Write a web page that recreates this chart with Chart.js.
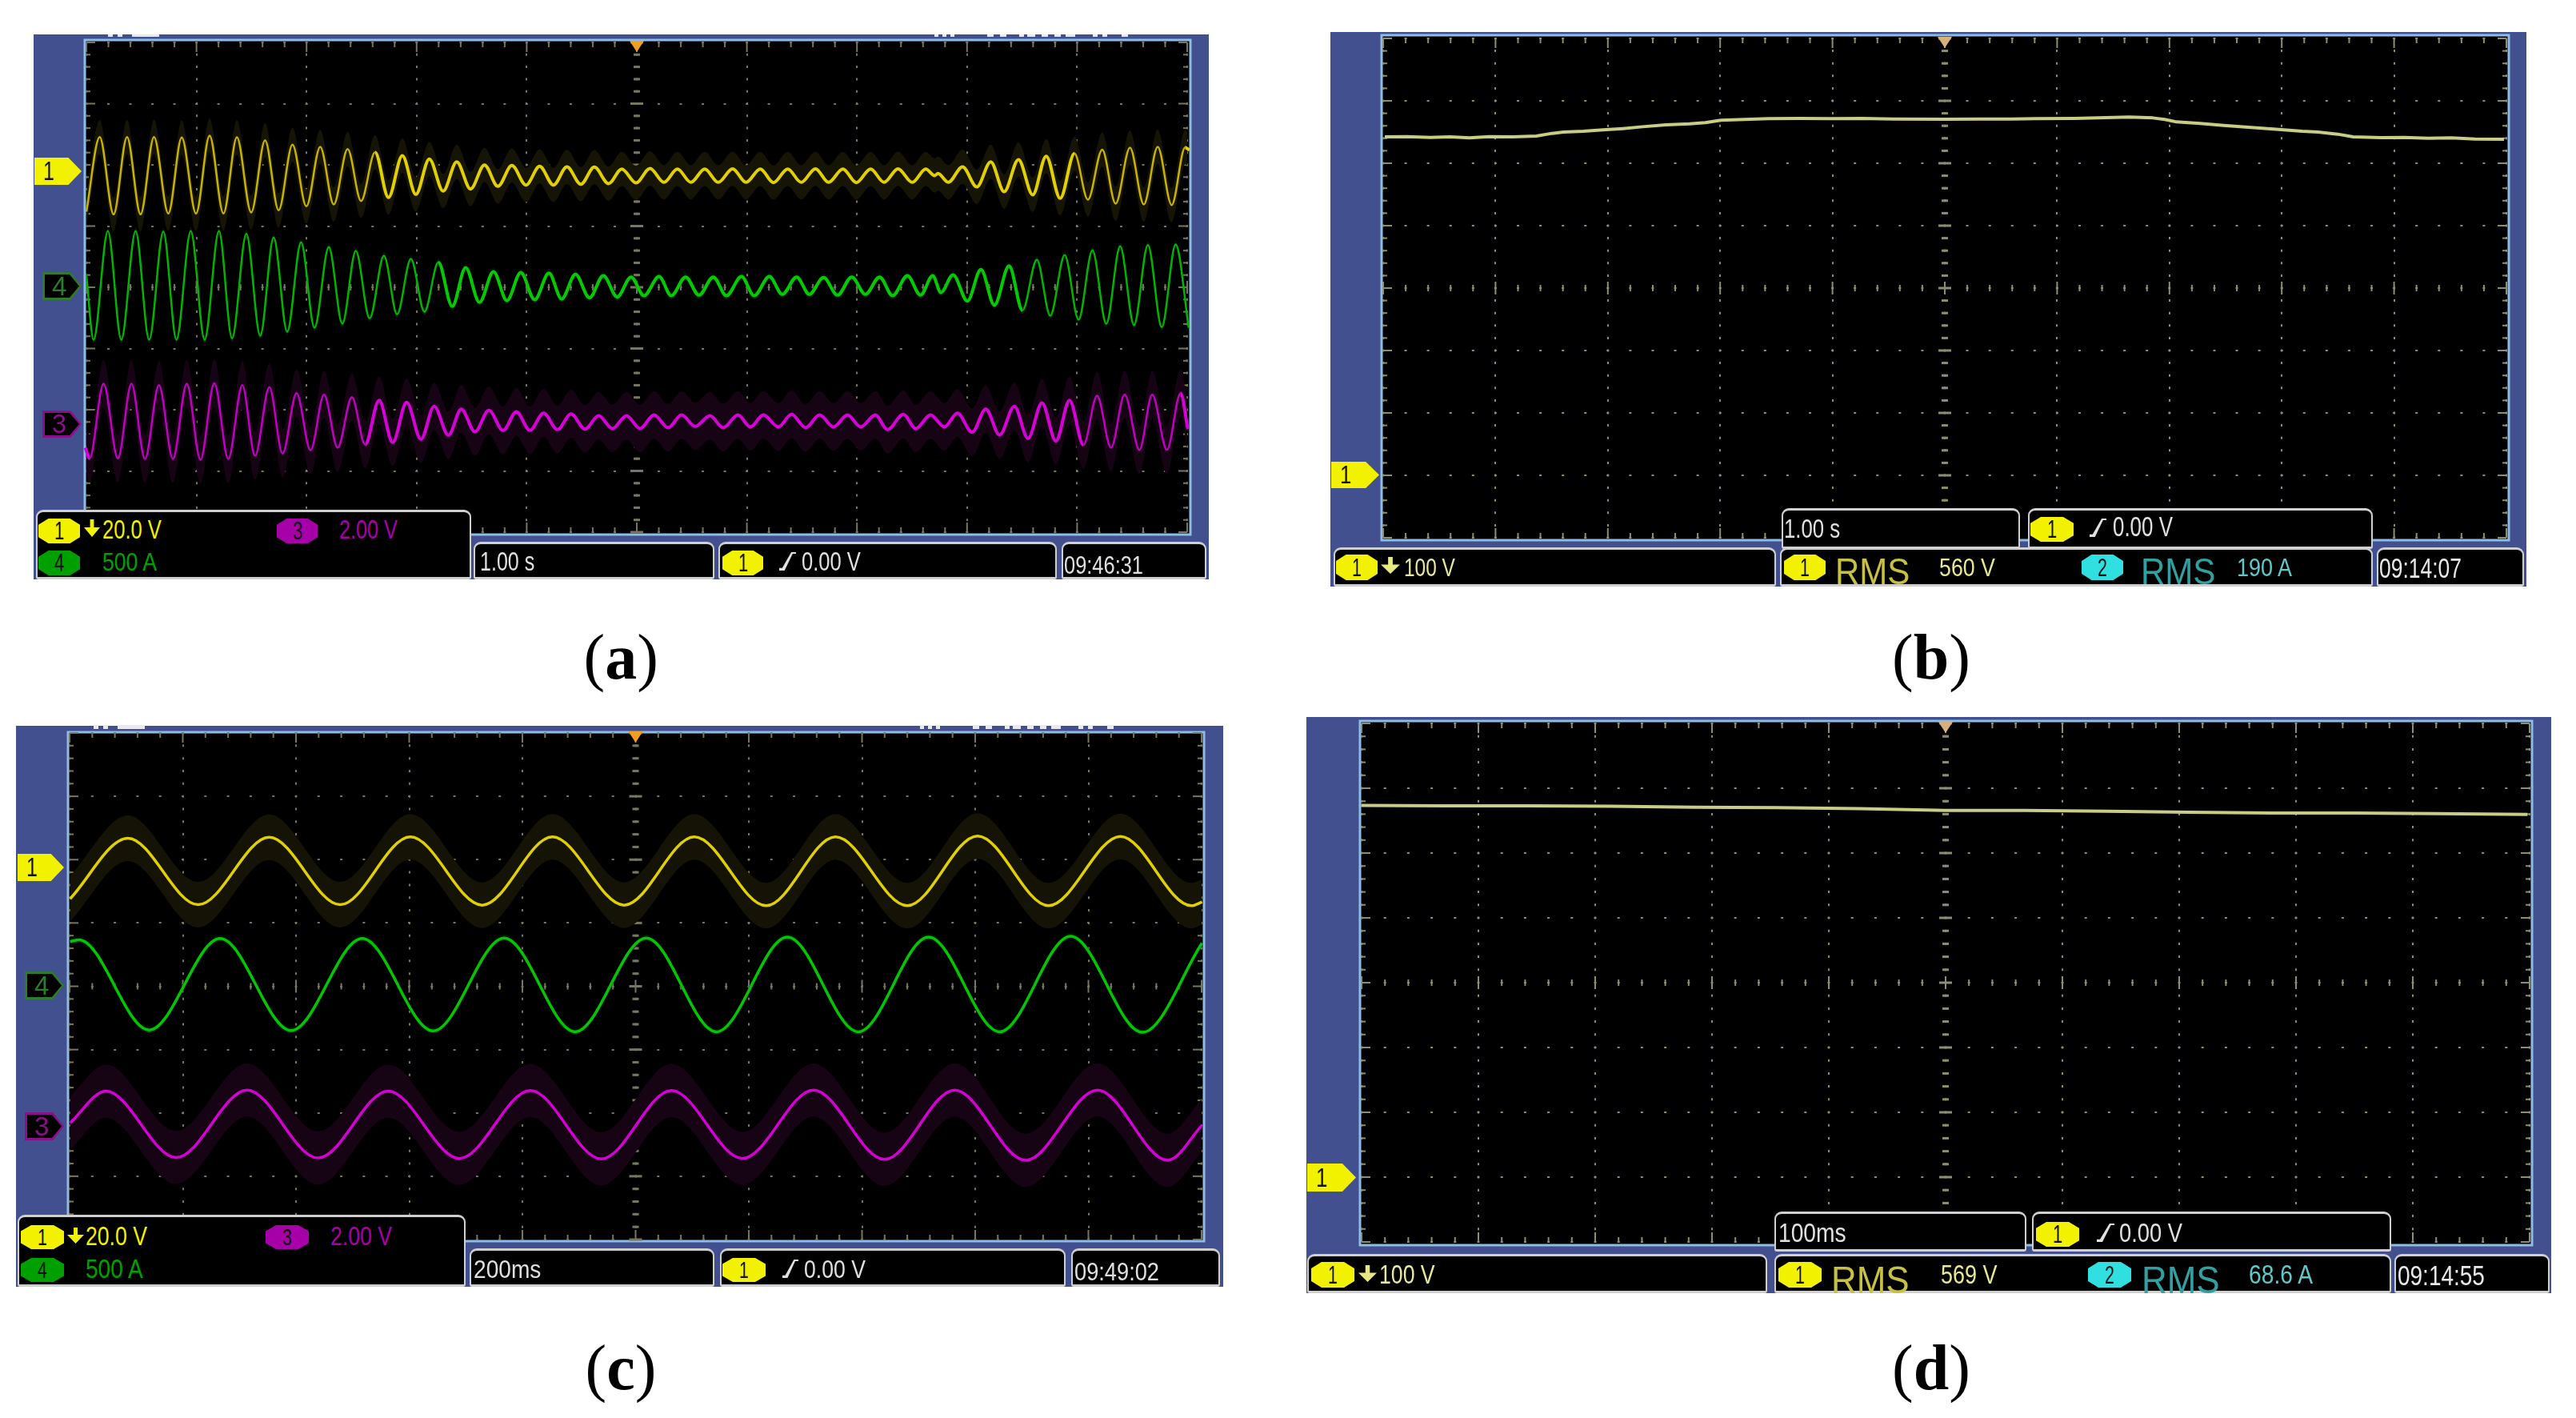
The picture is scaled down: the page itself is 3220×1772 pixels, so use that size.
<!DOCTYPE html>
<html>
<head>
<meta charset="utf-8">
<title>Scope captures</title>
<script src="https://cdn.jsdelivr.net/npm/chart.js@4"></script>
<style>
html, body { margin: 0; background: #fff; }
#stage { position: relative; width: 3220px; height: 1772px; overflow: hidden; background: #fff; }
#stage canvas { position: absolute; background: #435090; }
.t { position: absolute; white-space: pre; line-height: 1; transform-origin: left top; font-family: "Liberation Sans", Arial, sans-serif; }
.s { position: absolute; }
.box { position: absolute; box-sizing: border-box; background: #000; border: 2px solid #cfcfcf; border-width: 3px 2px 3px 2px; border-radius: 9px 9px 3px 3px; }
.cap { position: absolute; white-space: pre; line-height: 1; font-family: "Liberation Serif", serif; font-size: 80px; color: #000; }
</style>
</head>
<body>
<div id="stage"></div>
<script>
// all x in horizontal divisions from centre, all y in vertical divisions from centre

// (a) 1.00 s/div
const aYellowX = [-5.0,-4.879,-4.753,-4.631,-4.508,-4.386,-4.256,-4.134,-4.004,-3.881,-3.755,-3.633,-3.503,-3.377,-3.254,-3.128,-3.002,-2.876,-2.753,-2.627,-2.505,-2.378,-2.256,-2.13,-2.007,-1.885,-1.759,-1.636,-1.51,-1.384,-1.262,-1.135,-1.006,-0.883,-0.757,-0.635,-0.508,-0.386,-0.256,-0.137,-0.007,0.12,0.246,0.369,0.491,0.617,0.74,0.87,0.992,1.122,1.241,1.371,1.493,1.623,1.742,1.872,1.994,2.124,2.246,2.373,2.502,2.625,2.706,2.736,2.829,2.959,3.089,3.215,3.337,3.467,3.597,3.719,3.846,3.976,4.098,4.228,4.35,4.48,4.606,4.732,4.859,4.981,5.02];
const aYellowY = [1.235,2.455,1.192,2.455,1.192,2.455,1.205,2.447,1.205,2.477,1.205,2.451,1.222,2.403,1.257,2.329,1.322,2.294,1.353,2.259,1.41,2.207,1.466,2.15,1.518,2.094,1.571,2.05,1.606,1.998,1.649,1.989,1.671,1.976,1.671,1.967,1.684,1.963,1.693,1.932,1.706,1.941,1.715,1.932,1.715,1.932,1.715,1.936,1.715,1.932,1.71,1.932,1.715,1.936,1.715,1.932,1.71,1.932,1.715,1.936,1.715,1.932,1.825,1.858,1.715,1.967,1.64,2.05,1.562,2.085,1.51,2.142,1.453,2.185,1.431,2.25,1.366,2.281,1.353,2.294,1.344,2.285,2.24];
const aGreenX = [-5.0,-4.935,-4.805,-4.683,-4.553,-4.43,-4.301,-4.182,-4.052,-3.926,-3.796,-3.677,-3.547,-3.421,-3.299,-3.176,-3.05,-2.928,-2.798,-2.675,-2.553,-2.427,-2.297,-2.178,-2.052,-1.929,-1.803,-1.677,-1.555,-1.429,-1.302,-1.18,-1.054,-0.928,-0.798,-0.683,-0.557,-0.43,-0.304,-0.178,-0.052,0.065,0.202,0.313,0.443,0.565,0.695,0.814,0.951,1.066,1.204,1.322,1.452,1.567,1.697,1.823,1.953,2.076,2.206,2.324,2.458,2.577,2.688,2.762,2.873,3.003,3.126,3.248,3.382,3.504,3.634,3.756,3.887,4.013,4.139,4.265,4.391,4.517,4.643,4.769,4.895,5.014];
const aGreenY = [0.19,-0.856,0.917,-0.856,0.917,-0.856,0.908,-0.856,0.917,-0.856,0.917,-0.834,0.874,-0.791,0.813,-0.725,0.734,-0.66,0.656,-0.595,0.595,-0.508,0.516,-0.442,0.464,-0.399,0.407,-0.312,0.32,-0.246,0.255,-0.216,0.242,-0.203,0.233,-0.19,0.211,-0.172,0.19,-0.159,0.168,-0.137,0.176,-0.137,0.168,-0.129,0.168,-0.137,0.176,-0.137,0.176,-0.115,0.168,-0.115,0.159,-0.129,0.168,-0.115,0.168,-0.137,0.19,-0.129,0.19,-0.085,0.203,-0.224,0.29,-0.29,0.351,-0.377,0.451,-0.464,0.525,-0.529,0.603,-0.595,0.669,-0.617,0.691,-0.651,0.699,-0.66];
const aMagentaX = [-5.01,-4.971,-4.844,-4.714,-4.591,-4.468,-4.341,-4.214,-4.088,-3.964,-3.838,-3.711,-3.584,-3.468,-3.338,-3.218,-3.091,-2.964,-2.841,-2.718,-2.588,-2.468,-2.341,-2.218,-2.091,-1.961,-1.841,-1.711,-1.594,-1.471,-1.344,-1.214,-1.094,-0.971,-0.847,-0.721,-0.597,-0.471,-0.347,-0.221,-0.094,0.029,0.157,0.284,0.407,0.531,0.664,0.785,0.919,1.032,1.149,1.286,1.406,1.533,1.66,1.787,1.914,2.034,2.167,2.278,2.421,2.535,2.668,2.795,2.912,3.046,3.17,3.296,3.43,3.554,3.681,3.807,3.931,4.058,4.181,4.308,4.432,4.566,4.682,4.816,4.94,5.006];
const aMagentaY = [-2.621,-2.795,-1.575,-2.795,-1.575,-2.804,-1.597,-2.804,-1.575,-2.817,-1.566,-2.804,-1.597,-2.752,-1.632,-2.717,-1.728,-2.664,-1.75,-2.621,-1.793,-2.569,-1.846,-2.534,-1.88,-2.482,-1.946,-2.416,-1.989,-2.36,-2.011,-2.338,-2.033,-2.338,-2.055,-2.325,-2.068,-2.316,-2.098,-2.307,-2.098,-2.307,-2.085,-2.294,-2.085,-2.272,-2.098,-2.294,-2.085,-2.281,-2.085,-2.281,-2.076,-2.294,-2.085,-2.281,-2.085,-2.281,-2.085,-2.325,-2.076,-2.307,-2.085,-2.281,-2.055,-2.368,-1.989,-2.412,-1.946,-2.469,-1.889,-2.512,-1.846,-2.577,-1.771,-2.621,-1.75,-2.656,-1.75,-2.656,-1.728,-2.316];

// (b) 1.00 s/div
const bYellowX = [-4.986,-4.79,-4.58,-4.406,-4.231,-4.056,-3.846,-3.636,-3.497,-3.392,-3.217,-3.042,-2.867,-2.692,-2.483,-2.273,-2.133,-1.993,-1.783,-1.573,-1.294,-1.014,-0.734,-0.455,0,0.315,0.594,0.804,1.154,1.434,1.643,1.853,1.958,2.063,2.273,2.483,2.727,2.972,3.182,3.322,3.497,3.636,3.881,4.091,4.301,4.51,4.72,4.979];
const bYellowY = [2.423,2.427,2.415,2.423,2.406,2.427,2.423,2.436,2.479,2.5,2.513,2.534,2.556,2.585,2.615,2.632,2.65,2.688,2.701,2.714,2.718,2.714,2.718,2.709,2.705,2.709,2.709,2.714,2.718,2.731,2.739,2.726,2.701,2.662,2.637,2.607,2.573,2.543,2.513,2.5,2.466,2.423,2.41,2.415,2.402,2.406,2.389,2.385];

// (c) 200 ms/div
const cYellowX = [-4.996,-4.485,-3.864,-3.237,-2.61,-1.99,-1.355,-0.735,-0.101,0.519,1.154,1.766,2.401,3.021,3.648,4.283,4.91,5.004];
const cYellowY = [1.381,2.338,1.288,2.353,1.288,2.36,1.281,2.36,1.281,2.36,1.273,2.36,1.273,2.374,1.273,2.367,1.273,1.331];
const cGreenX = [-4.996,-4.917,-4.297,-3.67,-3.043,-2.415,-1.788,-1.161,-0.534,0.094,0.714,1.341,1.968,2.588,3.216,3.843,4.477,5.004];
const cGreenY = [0.705,0.734,-0.691,0.755,-0.698,0.755,-0.705,0.763,-0.719,0.763,-0.719,0.777,-0.719,0.777,-0.719,0.791,-0.727,0.683];
const cMagentaX = [-4.996,-4.679,-4.059,-3.432,-2.805,-2.185,-1.557,-0.93,-0.303,0.317,0.944,1.572,2.199,2.819,3.446,4.081,4.701,5.004];
const cMagentaY = [-2.158,-1.655,-2.705,-1.64,-2.712,-1.655,-2.719,-1.647,-2.727,-1.647,-2.719,-1.64,-2.734,-1.64,-2.748,-1.64,-2.748,-2.194];

// (d) 100 ms/div
const dYellowX = [-5.004,-4.276,-3.569,-2.862,-2.155,-1.449,-0.742,0,0.671,1.378,2.085,2.792,3.498,4.205,4.982];
const dYellowY = [2.735,2.728,2.728,2.721,2.707,2.7,2.686,2.658,2.658,2.644,2.63,2.616,2.616,2.609,2.595];

// half height of the dim persistence band round each trace, in divisions
const aYellowNoise = 0.28, aGreenNoise = 0.06, aMagentaNoise = 0.39;
const cYellowNoise = 0.36, cGreenNoise = 0.05, cMagentaNoise = 0.42;

const YELLOW = '#f2f200', GREEN = '#00a000', MAGENTA = '#a800a8', CYAN = '#30e0e0';
const stage = document.getElementById('stage');

function pts(xs, ys, off) {
    return xs.map((x, i) => ({ x, y: ys[i] + (off || 0) }));
}

function trace(xs, ys, color, width) {
    return { data: pts(xs, ys), borderColor: color, borderWidth: width, pointRadius: 0, fill: false, clip: false, order: 0, borderJoinStyle: 'round' };
}

// on (a) the small swings read thicker and brighter than the big ones
function denseTrace(xs, ys, thin, bright) {
    const d = trace(xs, ys, thin, 2.5);
    d.segment = {
        borderWidth: ctx => Math.abs(ctx.p0.parsed.y - ctx.p1.parsed.y) < 0.75 ? 4 : 2.5,
        borderColor: ctx => Math.abs(ctx.p0.parsed.y - ctx.p1.parsed.y) < 0.75 ? bright : thin
    };
    return d;
}

function band(xs, ys, noise, color) {
    return [
        { data: pts(xs, ys, noise), borderWidth: 0, borderColor: 'transparent', backgroundColor: color, pointRadius: 0, fill: '+1', clip: false, order: 1 },
        { data: pts(xs, ys, -noise), borderWidth: 0, borderColor: 'transparent', pointRadius: 0, fill: false, clip: false, order: 1 }
    ];
}

// ticks on the frame and on the centre cross
const scopeRulers = {
    id: 'scopeRulers',
    beforeDraw(chart) {
        const p = chart.options.plugins.scopeRulers, a = chart.chartArea, c = chart.ctx;
        c.save();
        c.fillStyle = '#000';
        c.fillRect(a.left - p.frame[0], a.top - p.frame[1], a.width + p.frame[0] + p.frame[2], a.height + p.frame[1] + p.frame[3]);
        c.strokeStyle = '#8fbce6';
        c.lineWidth = 3;
        c.strokeRect(a.left - p.frame[0], a.top - p.frame[1], a.width + p.frame[0] + p.frame[2], a.height + p.frame[1] + p.frame[3]);
        c.restore();
    },
    beforeDatasetsDraw(chart) {
        const p = chart.options.plugins.scopeRulers, a = chart.chartArea, c = chart.ctx;
        const sx = chart.scales.x, sy = chart.scales.y;
        const x0 = sx.getPixelForValue(0), y0 = sy.getPixelForValue(0);
        c.save();
        c.fillStyle = p.tick;
        for (let i = -25; i <= 25; i++) {
            const x = sx.getPixelForValue(i / 5), big = i % 5 === 0;
            const len = big ? 12 : 6;
            c.fillRect(x - 1, a.top, 2, len);
            c.fillRect(x - 1, a.bottom - len, 2, len);
            c.fillRect(x - 1, y0 - (big ? 8 : 4), 2, big ? 16 : 8);
        }
        for (let j = -20; j <= 20; j++) {
            const y = sy.getPixelForValue(j / 5), big = j % 5 === 0;
            const len = big ? 11 : 5;
            c.fillRect(a.left, y - 1, len, 2);
            c.fillRect(a.right - len, y - 1, len, 2);
            c.fillRect(x0 - (big ? 8 : 4), y - 1.5, big ? 16 : 8, 3);
        }
        c.restore();
    },
    afterDraw(chart) {
        const p = chart.options.plugins.scopeRulers, a = chart.chartArea, c = chart.ctx;
        const x0 = chart.scales.x.getPixelForValue(0);
        c.save();
        c.fillStyle = p.trigger;
        c.beginPath();
        c.moveTo(x0 - 9, a.top - 2);
        c.lineTo(x0 + 9, a.top - 2);
        c.lineTo(x0, a.top + 12);
        c.closePath();
        c.fill();
        c.restore();
    }
};

function scope(outer, gridBox, frame, tick, trigger, smooth, datasets) {
    const cv = document.createElement('canvas');
    cv.width = outer[2] - outer[0];
    cv.height = outer[3] - outer[1];
    cv.style.left = outer[0] + 'px';
    cv.style.top = outer[1] + 'px';
    stage.appendChild(cv);
    const w = gridBox[2] - gridBox[0], h = gridBox[3] - gridBox[1];
    const yDot = h / 40, xDot = w / 50;
    if (smooth) datasets.forEach(d => { d.cubicInterpolationMode = 'monotone'; });
    new Chart(cv.getContext('2d'), {
        type: 'line',
        data: { datasets },
        plugins: [scopeRulers],
        options: {
            responsive: false,
            animation: false,
            devicePixelRatio: 1,
            events: [],
            layout: { padding: { left: gridBox[0] - outer[0], top: gridBox[1] - outer[1], right: outer[2] - gridBox[2], bottom: outer[3] - gridBox[3] } },
            plugins: {
                legend: { display: false },
                tooltip: { enabled: false },
                scopeRulers: { frame, tick, trigger }
            },
            scales: {
                x: {
                    type: 'linear', min: -5, max: 5,
                    ticks: { stepSize: 1, display: false },
                    grid: { color: tick, lineWidth: 2, drawTicks: false },
                    border: { display: false, dash: [3, yDot - 3], dashOffset: 1.5 }
                },
                y: {
                    type: 'linear', min: -4, max: 4,
                    ticks: { stepSize: 1, display: false },
                    grid: { color: tick, lineWidth: 2, drawTicks: false },
                    border: { display: false, dash: [3, xDot - 3], dashOffset: 1.5 }
                }
            }
        }
    });
}

// text squeezed to the measured width, the scope font is tall and narrow
function txt(str, x0, top, x1, bottom, color) {
    const capH = bottom - top, size = capH / 0.716;
    const d = document.createElement('div');
    d.className = 't';
    d.textContent = str;
    d.style.fontSize = size + 'px';
    d.style.color = color;
    d.style.left = x0 + 'px';
    d.style.top = (top - 0.13 * size) + 'px';
    stage.appendChild(d);
    d.style.transform = 'scaleX(' + ((x1 - x0) / d.offsetWidth) + ')';
}

function shape(x0, y0, x1, y1, color, clip) {
    const d = document.createElement('div');
    d.className = 's';
    d.style.cssText = 'left:' + x0 + 'px;top:' + y0 + 'px;width:' + (x1 - x0) + 'px;height:' + (y1 - y0) + 'px;background:' + color + ';' + (clip ? 'clip-path:polygon(' + clip + ');' : '');
    stage.appendChild(d);
}

function box(x0, y0, x1, y1) {
    const d = document.createElement('div');
    d.className = 'box';
    d.style.cssText = 'left:' + x0 + 'px;top:' + y0 + 'px;width:' + (x1 - x0) + 'px;height:' + (y1 - y0) + 'px;';
    stage.appendChild(d);
}

const OCT = '24% 0,76% 0,100% 25%,100% 75%,76% 100%,24% 100%,0 75%,0 25%';
const PENT = '0 0,72% 0,100% 50%,72% 100%,0 100%';
const ARROW = '38% 0,62% 0,62% 45%,100% 45%,50% 100%,0 45%,38% 45%';
const SLOPE = '0 100%,0 86%,18% 86%,72% 0,100% 0,100% 9%,80% 9%,32% 100%';

function badge(x0, y0, x1, y1, n, color) {
    shape(x0, y0, x1, y1, color, OCT);
    const cx = (x0 + x1) / 2, h = y1 - y0;
    txt(n, cx - 6, y0 + h * 0.14, cx + 6, y1 - h * 0.14, '#111');
}

function marker(x0, y0, x1, y1, n, color, dark) {
    shape(x0, y0, x1, y1, color, PENT);
    const h = y1 - y0;
    if (dark) {
        shape(x0 + 3, y0 + 3, x1 - 3, y1 - 3, '#000', PENT);
        txt(n, x0 + 12, y0 + h * 0.16, x0 + 30, y1 - h * 0.16, color);
    } else {
        txt(n, x0 + 11, y0 + h * 0.16, x0 + 25, y1 - h * 0.16, '#111');
    }
}

function caption(letter, cx, cy) {
    const d = document.createElement('div');
    d.className = 'cap';
    d.innerHTML = '(<b>' + letter + '</b>)';
    stage.appendChild(d);
    d.style.left = (cx - d.offsetWidth / 2) + 'px';
    d.style.top = (cy - d.offsetHeight / 2) + 'px';
}

const SCOPE_TICK = '#77775f', PALE_TICK = '#8d8d70';

scope([42, 43, 1511, 724], [108, 53, 1484, 665], [2, 3, 4, 3], SCOPE_TICK, '#f0a020', true, [
    denseTrace(aYellowX, aYellowY, '#c8b400', '#e2d000'),
    denseTrace(aGreenX, aGreenY, '#00b400', '#00cc00'),
    denseTrace(aMagentaX, aMagentaY, '#c000c0', '#d800d8'),
    ...band(aYellowX, aYellowY, aYellowNoise, '#151405'),
    ...band(aGreenX, aGreenY, aGreenNoise, '#001800'),
    ...band(aMagentaX, aMagentaY, aMagentaNoise, '#160314')
]);
scope([1663, 40, 3158, 733], [1729, 48, 3133, 672], [2, 4, 3, 3], PALE_TICK, '#d8b080', false, [
    trace(bYellowX, bYellowY, '#c9cc84', 4)
]);
scope([20, 907, 1529, 1608], [87, 916, 1502, 1549], [2, 1, 3, 2], SCOPE_TICK, '#f0a020', true, [
    trace(cYellowX, cYellowY, '#e0d000', 3.5),
    trace(cGreenX, cGreenY, '#00c800', 3.5),
    trace(cMagentaX, cMagentaY, '#d400d4', 3.5),
    ...band(cYellowX, cYellowY, cYellowNoise, '#141305'),
    ...band(cGreenX, cGreenY, cGreenNoise, '#001800'),
    ...band(cMagentaX, cMagentaY, cMagentaNoise, '#160314')
]);
scope([1633, 896, 3189, 1616], [1702, 904, 3162, 1552], [2, 3, 3, 4], PALE_TICK, '#d8b080', false, [
    trace(dYellowX, dYellowY, '#c9cc84', 4)
]);

// clipped header text at the top of (a) and (c)
[[43, 3], [906, 5]].forEach(([y, h], k) => {
    const dx = k ? -18 : 0;
    [[135, 6], [147, 6], [165, 34], [1168, 5], [1178, 5], [1188, 5], [1234, 8], [1250, 8], [1274, 6], [1284, 10], [1302, 8], [1318, 8], [1332, 12], [1366, 6], [1378, 6], [1402, 8]]
        .forEach(([x, w]) => shape(x + dx, y, x + dx + w, y + h, '#e8e8f0'));
});

// (a) markers and status bar
marker(43, 197, 102, 231, '1', YELLOW, false);
marker(53, 340, 102, 375, '4', '#2e7a2e', true);
marker(53, 513, 102, 547, '3', '#8a108a', true);
box(45, 637, 589, 724); box(592, 677, 893, 724); box(898, 677, 1321, 724); box(1327, 677, 1508, 724);
badge(48, 648, 100, 679, '1', YELLOW);
shape(105, 649, 125, 671, YELLOW, ARROW);
txt('20.0 V', 128, 649, 202, 673, YELLOW);
badge(346, 648, 397, 679, '3', MAGENTA);
txt('2.00 V', 424, 649, 497, 673, MAGENTA);
badge(48, 688, 100, 719, '4', GREEN);
txt('500 A', 128, 690, 196, 713, GREEN);
txt('1.00 s', 600, 689, 668, 713, '#e0e0e0');
badge(903, 688, 954, 719, '1', YELLOW);
shape(974, 690, 995, 713, '#e0e0e0', SLOPE);
txt('0.00 V', 1002, 689, 1076, 713, '#e0e0e0');
txt('09:46:31', 1330, 694, 1429, 717, '#e0e0e0');
caption('a', 776, 821);

// (b)
marker(1664, 577, 1724, 610, '1', YELLOW, false);
box(2227, 635, 2525, 686); box(2535, 635, 2966, 686);
box(1667, 684, 2220, 733); box(2225, 684, 2966, 733); box(2971, 684, 3155, 733);
txt('1.00 s', 2230, 648, 2300, 672, '#e0e0e0');
badge(2538, 646, 2592, 677, '1', YELLOW);
shape(2612, 648, 2633, 671, '#e0e0e0', SLOPE);
txt('0.00 V', 2641, 646, 2716, 671, '#e0e0e0');
badge(1670, 693, 1722, 725, '1', YELLOW);
shape(1726, 696, 1750, 717, '#e8e880', ARROW);
txt('100 V', 1755, 697, 1819, 720, '#e8e8a0');
badge(2230, 693, 2282, 725, '1', YELLOW);
txt('RMS', 2294, 697, 2387, 730, '#c8c040');
txt('560 V', 2424, 697, 2494, 720, '#e8e890');
badge(2602, 693, 2654, 725, '2', CYAN);
txt('RMS', 2676, 697, 2769, 730, '#30a0a0');
txt('190 A', 2796, 697, 2865, 720, '#60c8c8');
txt('09:14:07', 2974, 698, 3077, 723, '#e8e8e8');
caption('b', 2414, 821);

// (c)
marker(22, 1067, 80, 1101, '1', YELLOW, false);
marker(31, 1214, 80, 1249, '4', '#2e7a2e', true);
marker(31, 1390, 80, 1425, '3', '#8a108a', true);
box(22, 1518, 582, 1608); box(587, 1560, 893, 1608); box(900, 1560, 1332, 1608); box(1339, 1560, 1525, 1608);
badge(26, 1531, 80, 1561, '1', YELLOW);
shape(84, 1534, 105, 1554, YELLOW, ARROW);
txt('20.0 V', 107, 1532, 184, 1556, YELLOW);
badge(332, 1531, 386, 1561, '3', MAGENTA);
txt('2.00 V', 413, 1532, 490, 1556, MAGENTA);
badge(26, 1572, 80, 1602, '4', GREEN);
txt('500 A', 107, 1573, 179, 1597, GREEN);
txt('200ms', 592, 1574, 676, 1597, '#e0e0e0');
badge(903, 1572, 957, 1602, '1', YELLOW);
shape(978, 1574, 998, 1597, '#e0e0e0', SLOPE);
txt('0.00 V', 1005, 1574, 1082, 1597, '#e0e0e0');
txt('09:49:02', 1343, 1577, 1449, 1600, '#e0e0e0');
caption('c', 776, 1709);

// (d)
marker(1634, 1454, 1695, 1489, '1', YELLOW, false);
box(2218, 1514, 2533, 1564); box(2540, 1514, 2989, 1564);
box(1634, 1567, 2209, 1616); box(2218, 1567, 2989, 1616); box(2993, 1567, 3187, 1616);
txt('100ms', 2223, 1528, 2308, 1552, '#e0e0e0');
badge(2545, 1527, 2599, 1558, '1', YELLOW);
shape(2621, 1529, 2643, 1552, '#e0e0e0', SLOPE);
txt('0.00 V', 2649, 1528, 2728, 1552, '#e0e0e0');
badge(1639, 1577, 1693, 1609, '1', YELLOW);
shape(1698, 1581, 1721, 1602, '#e8e880', ARROW);
txt('100 V', 1724, 1580, 1794, 1604, '#e8e8a0');
badge(2223, 1577, 2277, 1609, '1', YELLOW);
txt('RMS', 2289, 1581, 2387, 1616, '#c8c040');
txt('569 V', 2426, 1580, 2497, 1604, '#e8e890');
badge(2610, 1577, 2664, 1609, '2', CYAN);
txt('RMS', 2677, 1581, 2775, 1616, '#30a0a0');
txt('68.6 A', 2811, 1580, 2891, 1604, '#60c8c8');
txt('09:14:55', 2997, 1582, 3106, 1607, '#e8e8e8');
caption('d', 2414, 1709);
</script>
</body>
</html>
